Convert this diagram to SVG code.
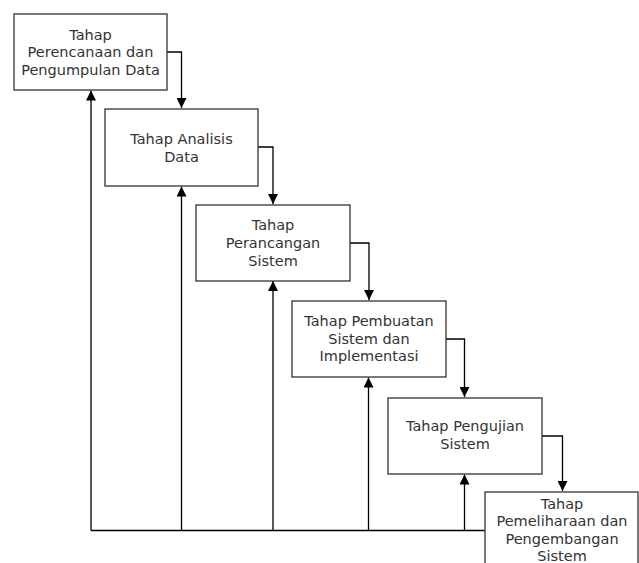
<svg xmlns="http://www.w3.org/2000/svg" width="639" height="563" viewBox="0 0 639 563">
<style>
.box{fill:#fff;stroke:#333;stroke-width:1.3}
.t{font-family:"DejaVu Sans",Verdana,sans-serif;font-size:14.5px;fill:#333;text-anchor:middle}
.c{fill:none;stroke:#000;stroke-width:1.3}
</style>
<defs>
<marker id="ah" viewBox="0 0 10 10" refX="10" refY="5" markerWidth="10" markerHeight="10" markerUnits="userSpaceOnUse" orient="auto">
<path d="M0,0 L10,5 L0,10 Z" fill="#000"/>
</marker>
</defs>
<rect width="639" height="563" fill="#fff"/>
<g id="connectors">
<path class="c" d="M167,52 H181.5 V108" marker-end="url(#ah)"/>
<path class="c" d="M258,147 H273 V204" marker-end="url(#ah)"/>
<path class="c" d="M350,243 H369 V300" marker-end="url(#ah)"/>
<path class="c" d="M446,339 H464.5 V397" marker-end="url(#ah)"/>
<path class="c" d="M542,436 H562.5 V491" marker-end="url(#ah)"/>
<path class="c" d="M485,530.5 H91"/>
<path class="c" d="M91,530.5 V90.5" marker-end="url(#ah)"/>
<path class="c" d="M181.5,530.5 V186.5" marker-end="url(#ah)"/>
<path class="c" d="M273,530.5 V281" marker-end="url(#ah)"/>
<path class="c" d="M368.5,530.5 V377.5" marker-end="url(#ah)"/>
<path class="c" d="M464.5,530.5 V474.5" marker-end="url(#ah)"/>
</g>
<g id="n1">
<rect class="box" x="14" y="14" width="153" height="76"/>
<text class="t" x="90.5" y="39.5">Tahap</text>
<text class="t" x="90.5" y="57">Perencanaan dan</text>
<text class="t" x="90.5" y="75">Pengumpulan Data</text>
</g>
<g id="n2">
<rect class="box" x="105" y="109" width="153" height="77"/>
<text class="t" x="181.5" y="143.5">Tahap Analisis</text>
<text class="t" x="181.5" y="161.5">Data</text>
</g>
<g id="n3">
<rect class="box" x="196" y="205" width="154" height="76"/>
<text class="t" x="273" y="230">Tahap</text>
<text class="t" x="273" y="248">Perancangan</text>
<text class="t" x="273" y="266">Sistem</text>
</g>
<g id="n4">
<rect class="box" x="292" y="301" width="154" height="76"/>
<text class="t" x="369" y="326">Tahap Pembuatan</text>
<text class="t" x="369" y="343.5">Sistem dan</text>
<text class="t" x="369" y="361">Implementasi</text>
</g>
<g id="n5">
<rect class="box" x="388" y="398" width="154" height="76"/>
<text class="t" x="465" y="431">Tahap Pengujian</text>
<text class="t" x="465" y="449">Sistem</text>
</g>
<g id="n6">
<rect class="box" x="485" y="492" width="153" height="80"/>
<text class="t" x="562" y="508.5">Tahap</text>
<text class="t" x="562" y="526">Pemeliharaan dan</text>
<text class="t" x="562" y="543.5">Pengembangan</text>
<text class="t" x="562" y="561">Sistem</text>
</g>
</svg>
